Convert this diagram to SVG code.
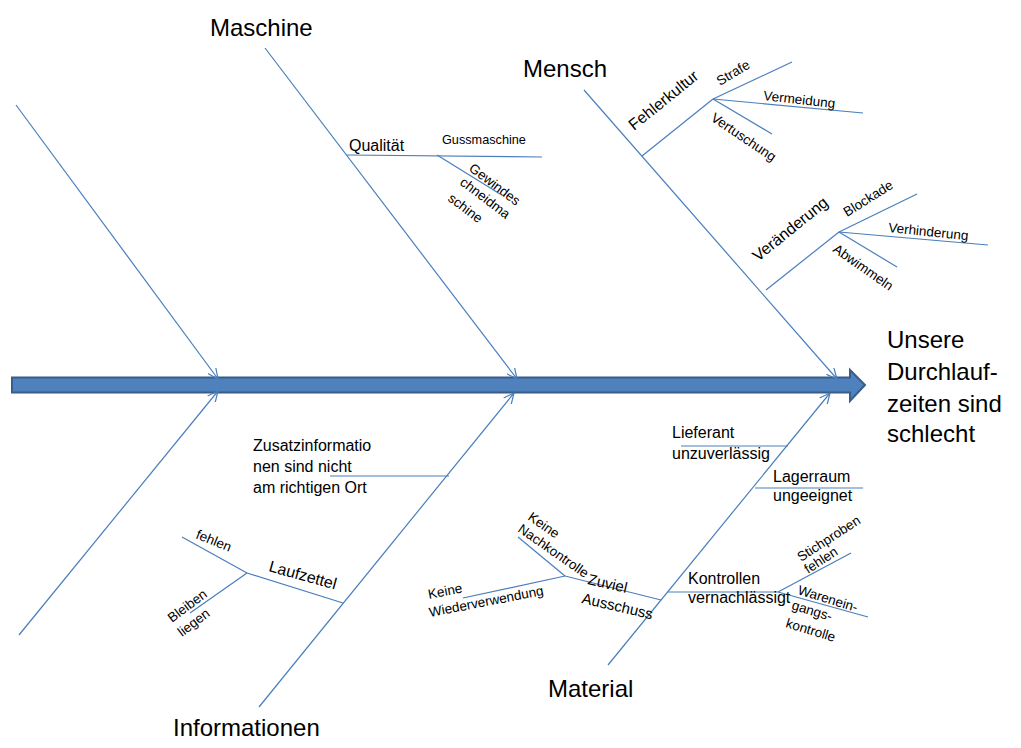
<svg xmlns="http://www.w3.org/2000/svg" width="1021" height="748" viewBox="0 0 1021 748">
<style>
  .ln { stroke: #4A7EBB; stroke-width: 1.2; fill: none; }
  .t { font-family: "Liberation Sans", Arial, sans-serif; fill: #000; }
  .big { font-size: 24px; }
  .med { font-size: 16px; }
  .sm { font-size: 13.5px; }
</style>
<defs>
  <marker id="arr" viewBox="0 0 10 10" refX="9.5" refY="5" markerWidth="11" markerHeight="11" markerUnits="userSpaceOnUse" orient="auto">
    <path d="M0,0.5 L9.5,5 L0,9.5" fill="none" stroke="#4A7EBB" stroke-width="1.1"/>
  </marker>
</defs>
<rect width="1021" height="748" fill="#fff"/>

<g id="spine">
  <polygon points="12,377.5 850,377.5 850,370 865,385 850,401 850,392.5 12,392.5" fill="#4F81BD" stroke="#385D8A" stroke-width="2"/>
</g>

<g id="connectors">
  <line class="ln" x1="16" y1="105" x2="218" y2="379" marker-end="url(#arr)"/>
  <line class="ln" x1="265" y1="48" x2="517" y2="379" marker-end="url(#arr)"/>
  <line class="ln" x1="584" y1="90" x2="837" y2="379" marker-end="url(#arr)"/>
  <line class="ln" x1="19" y1="635" x2="218" y2="391" marker-end="url(#arr)"/>
  <line class="ln" x1="259" y1="707" x2="514" y2="393" marker-end="url(#arr)"/>
  <line class="ln" x1="608" y1="665" x2="830" y2="393" marker-end="url(#arr)"/>
  <line class="ln" x1="347" y1="155" x2="542" y2="157"/>
  <line class="ln" x1="437" y1="155" x2="500" y2="194"/>
  <line class="ln" x1="642" y1="156" x2="713" y2="99"/>
  <line class="ln" x1="713" y1="99" x2="792" y2="62"/>
  <line class="ln" x1="713" y1="99" x2="863" y2="113"/>
  <line class="ln" x1="713" y1="99" x2="772" y2="134"/>
  <line class="ln" x1="766" y1="290" x2="839" y2="232"/>
  <line class="ln" x1="839" y1="232" x2="917" y2="194"/>
  <line class="ln" x1="839" y1="232" x2="988" y2="245"/>
  <line class="ln" x1="839" y1="232" x2="897" y2="267"/>
  <line class="ln" x1="330" y1="476" x2="449" y2="476"/>
  <line class="ln" x1="247" y1="573" x2="343" y2="603"/>
  <line class="ln" x1="182" y1="537" x2="247" y2="573"/>
  <line class="ln" x1="247" y1="573" x2="190" y2="613"/>
  <line class="ln" x1="681" y1="446" x2="788" y2="446"/>
  <line class="ln" x1="755" y1="488" x2="863" y2="488"/>
  <line class="ln" x1="668" y1="592" x2="778" y2="592"/>
  <line class="ln" x1="778" y1="592" x2="851" y2="553"/>
  <line class="ln" x1="778" y1="592" x2="868" y2="617"/>
  <line class="ln" x1="565" y1="576" x2="661" y2="600"/>
  <line class="ln" x1="565" y1="576" x2="518" y2="537"/>
  <line class="ln" x1="565" y1="576" x2="463" y2="598"/>
</g>

<g id="effect">
  <text class="t big" x="887" y="348">Unsere</text>
  <text class="t big" x="887" y="380">Durchlauf-</text>
  <text class="t big" x="887" y="412">zeiten sind</text>
  <text class="t big" x="887" y="442">schlecht</text>
</g>

<g id="maschine">
  <text class="t big" x="210" y="36">Maschine</text>
  <text class="t med" x="349" y="151">Qualität</text>
  <text class="t" font-size="12.7" x="442" y="144">Gussmaschine</text>
  <text class="t sm" transform="translate(468,170) rotate(37)">Gewindes</text>
  <text class="t sm" transform="translate(459,184) rotate(37)">chneidma</text>
  <text class="t sm" transform="translate(447,200) rotate(37)">schine</text>
</g>

<g id="mensch">
  <text class="t big" x="523" y="77">Mensch</text>
  <text class="t med" transform="translate(634,131) rotate(-39)">Fehlerkultur</text>
  <text class="t sm" transform="translate(720,86) rotate(-31)">Strafe</text>
  <text class="t sm" transform="translate(763,100) rotate(6.5)">Vermeidung</text>
  <text class="t sm" transform="translate(710,120) rotate(34)">Vertuschung</text>
  <text class="t med" transform="translate(758,262) rotate(-39)">Veränderung</text>
  <text class="t sm" transform="translate(847,217) rotate(-32)">Blockade</text>
  <text class="t sm" transform="translate(888,232) rotate(6)">Verhinderung</text>
  <text class="t sm" transform="translate(832,251) rotate(35)">Abwimmeln</text>
</g>

<g id="informationen">
  <text class="t big" x="173" y="736">Informationen</text>
  <text class="t med" x="253" y="451">Zusatzinformatio</text>
  <text class="t med" x="253" y="472">nen sind nicht</text>
  <text class="t med" x="253" y="493">am richtigen Ort</text>
  <text class="t med" transform="translate(268,571) rotate(15.5)">Laufzettel</text>
  <text class="t sm" transform="translate(195,538) rotate(22)">fehlen</text>
  <text class="t sm" transform="translate(172,623) rotate(-37)">Bleiben</text>
  <text class="t sm" transform="translate(182,637) rotate(-37)">liegen</text>
</g>

<g id="material">
  <text class="t big" x="548" y="697">Material</text>
  <text class="t med" x="672" y="438">Lieferant</text>
  <text class="t med" x="672" y="459">unzuverlässig</text>
  <text class="t med" x="773" y="482">Lagerraum</text>
  <text class="t med" x="773" y="501">ungeeignet</text>
  <text class="t med" x="688" y="584">Kontrollen</text>
  <text class="t med" x="688" y="603">vernachlässigt</text>
  <text class="t sm" transform="translate(801,562) rotate(-33)">Stichproben</text>
  <text class="t sm" transform="translate(808,574) rotate(-33)">fehlen</text>
  <text class="t sm" transform="translate(797,594) rotate(17)">Warenein-</text>
  <text class="t sm" transform="translate(791,609) rotate(17)">gangs-</text>
  <text class="t sm" transform="translate(785,627) rotate(17)">kontrolle</text>
  <text class="t sm" transform="translate(527,519) rotate(35)">Keine</text>
  <text class="t sm" transform="translate(517,531) rotate(35)">Nachkontrolle</text>
  <text class="t" font-size="15" transform="translate(587,584) rotate(13)">Zuviel</text>
  <text class="t" font-size="15" transform="translate(581,603) rotate(13)">Ausschuss</text>
  <text class="t sm" transform="translate(429,599) rotate(-11)">Keine</text>
  <text class="t sm" transform="translate(430,617) rotate(-11)">Wiederverwendung</text>
</g>
</svg>
